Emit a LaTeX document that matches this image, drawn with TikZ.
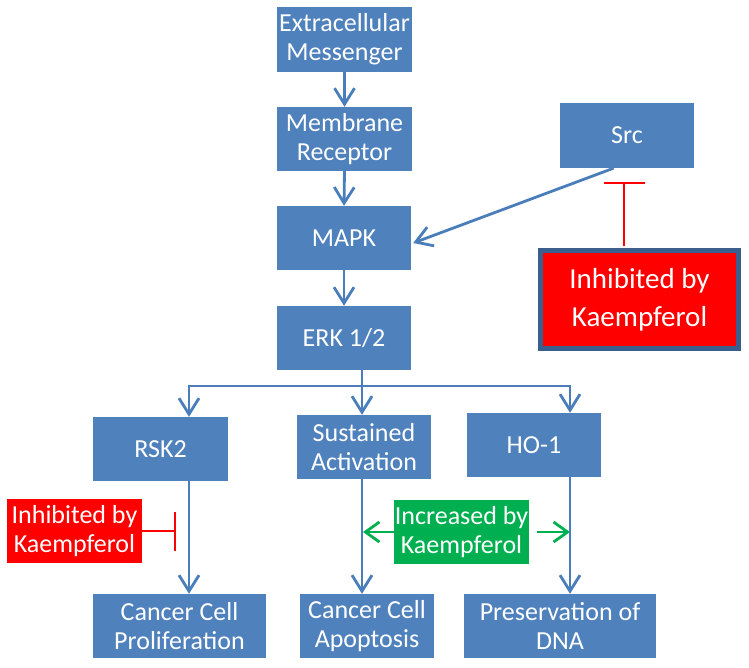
\documentclass[tikz,border=0pt]{standalone}
\usepackage{fontspec}
\setmainfont{Carlito}
\usetikzlibrary{arrows.meta,calc}
\definecolor{boxblue}{HTML}{4F81BD}
\definecolor{lineblue}{HTML}{4A7EBB}
\definecolor{darkborder}{HTML}{3A5F8F}
\definecolor{kred}{HTML}{FF0000}
\definecolor{kgreen}{HTML}{00B050}
\begin{document}
\begin{tikzpicture}[x=1pt,y=-1pt,
  bbox/.style={fill=boxblue,text=white,align=center,inner sep=0pt,
    minimum width=134pt,minimum height=64pt,font=\fontsize{26}{29}\selectfont},
  redbox/.style={bbox,fill=kred},
  greenbox/.style={bbox,fill=kgreen},
  arr/.style={draw=lineblue,line width=2.8pt,-{Straight Barb[length=16pt,width=20pt]}},
  garr/.style={draw=kgreen,line width=2.8pt,-{Straight Barb[length=14pt,width=20pt]}},
  inhib/.style={draw=kred,line width=2.2pt}
]
\useasboundingbox (0,0) rectangle (749,667);
\fill[white] (0,0) rectangle (749,667);

\node[bbox,minimum width=135pt,minimum height=65pt] (ext) at (344.5,39.5) {Extracellular\\Messenger};
\node[bbox,minimum width=135pt] (mem) at (344.5,139) {Membrane\\Receptor};
\node[bbox] (mapk) at (344,238) {MAPK};
\node[bbox] (erk) at (344,338) {ERK 1/2};
\node[bbox,minimum height=65pt] (src) at (627,135.5) {Src};
\node[redbox,draw=darkborder,line width=5pt,minimum width=198pt,minimum height=98pt,
  font=\fontsize{29}{38}\selectfont] (inhbig) at (639.5,299.5) {Inhibited by\\Kaempferol};

\node[bbox,minimum width=135pt] (rsk) at (160.5,449) {RSK2};
\node[bbox] (sus) at (364,447) {Sustained\\Activation};
\node[bbox] (ho) at (534,445) {HO-1};

\node[bbox,minimum width=173pt] (ccp) at (179.5,626) {Cancer Cell\\Proliferation};
\node[bbox] (cca) at (367,626) {Cancer Cell\\Apoptosis};
\node[bbox,minimum width=192pt] (dna) at (560,626) {Preservation of\\DNA};

\node[redbox,minimum width=135pt] (inhsm) at (74.5,531) {Inhibited by\\Kaempferol};
\node[greenbox,minimum width=135pt] (inc) at (461.5,532) {Increased by\\Kaempferol};

% main chain
\draw[arr] (ext.south) -- (mem.north);
\draw[arr] (mem.south) -- (mapk.north);
\draw[arr] (mapk.south) -- (erk.north);
\draw[arr] ($(src.south west)!0.4!(src.south east)$) -- ([xshift=2pt,yshift=-5pt]mapk.east);

% Src inhibition
\coordinate (tsrc) at (624,182);
\draw[inhib,-{Bar[width=41pt]}] ([xshift=-15.5pt,yshift=2pt]inhbig.north) -- (tsrc);

% branching
\coordinate (br) at (362,386);
\draw[arr] ([xshift=18pt]erk.south) -- ([xshift=-2pt]sus.north);
\draw[arr] (br) -| ([xshift=28.5pt]rsk.north);
\draw[arr] (br) -| ([xshift=36pt]ho.north);

% lower arrows
\draw[arr] ([xshift=28.5pt]rsk.south) -- ([xshift=9.5pt]ccp.north);
\draw[arr] ([xshift=-2pt]sus.south) -- ([xshift=-5pt]cca.north);
\draw[arr] ([xshift=36pt]ho.south) -- ([xshift=10pt]dna.north);

% kaempferol effects
\coordinate (tr) at (176,531);
\draw[inhib,-{Bar[width=39pt]}] (inhsm.east) -- (tr);
\coordinate (gl) at (363,532);
\coordinate (gr) at (570,532);
\draw[garr] (inc.west) -- (gl);
\draw[garr] ([xshift=8pt]inc.east) -- (gr);
\end{tikzpicture}
\end{document}
